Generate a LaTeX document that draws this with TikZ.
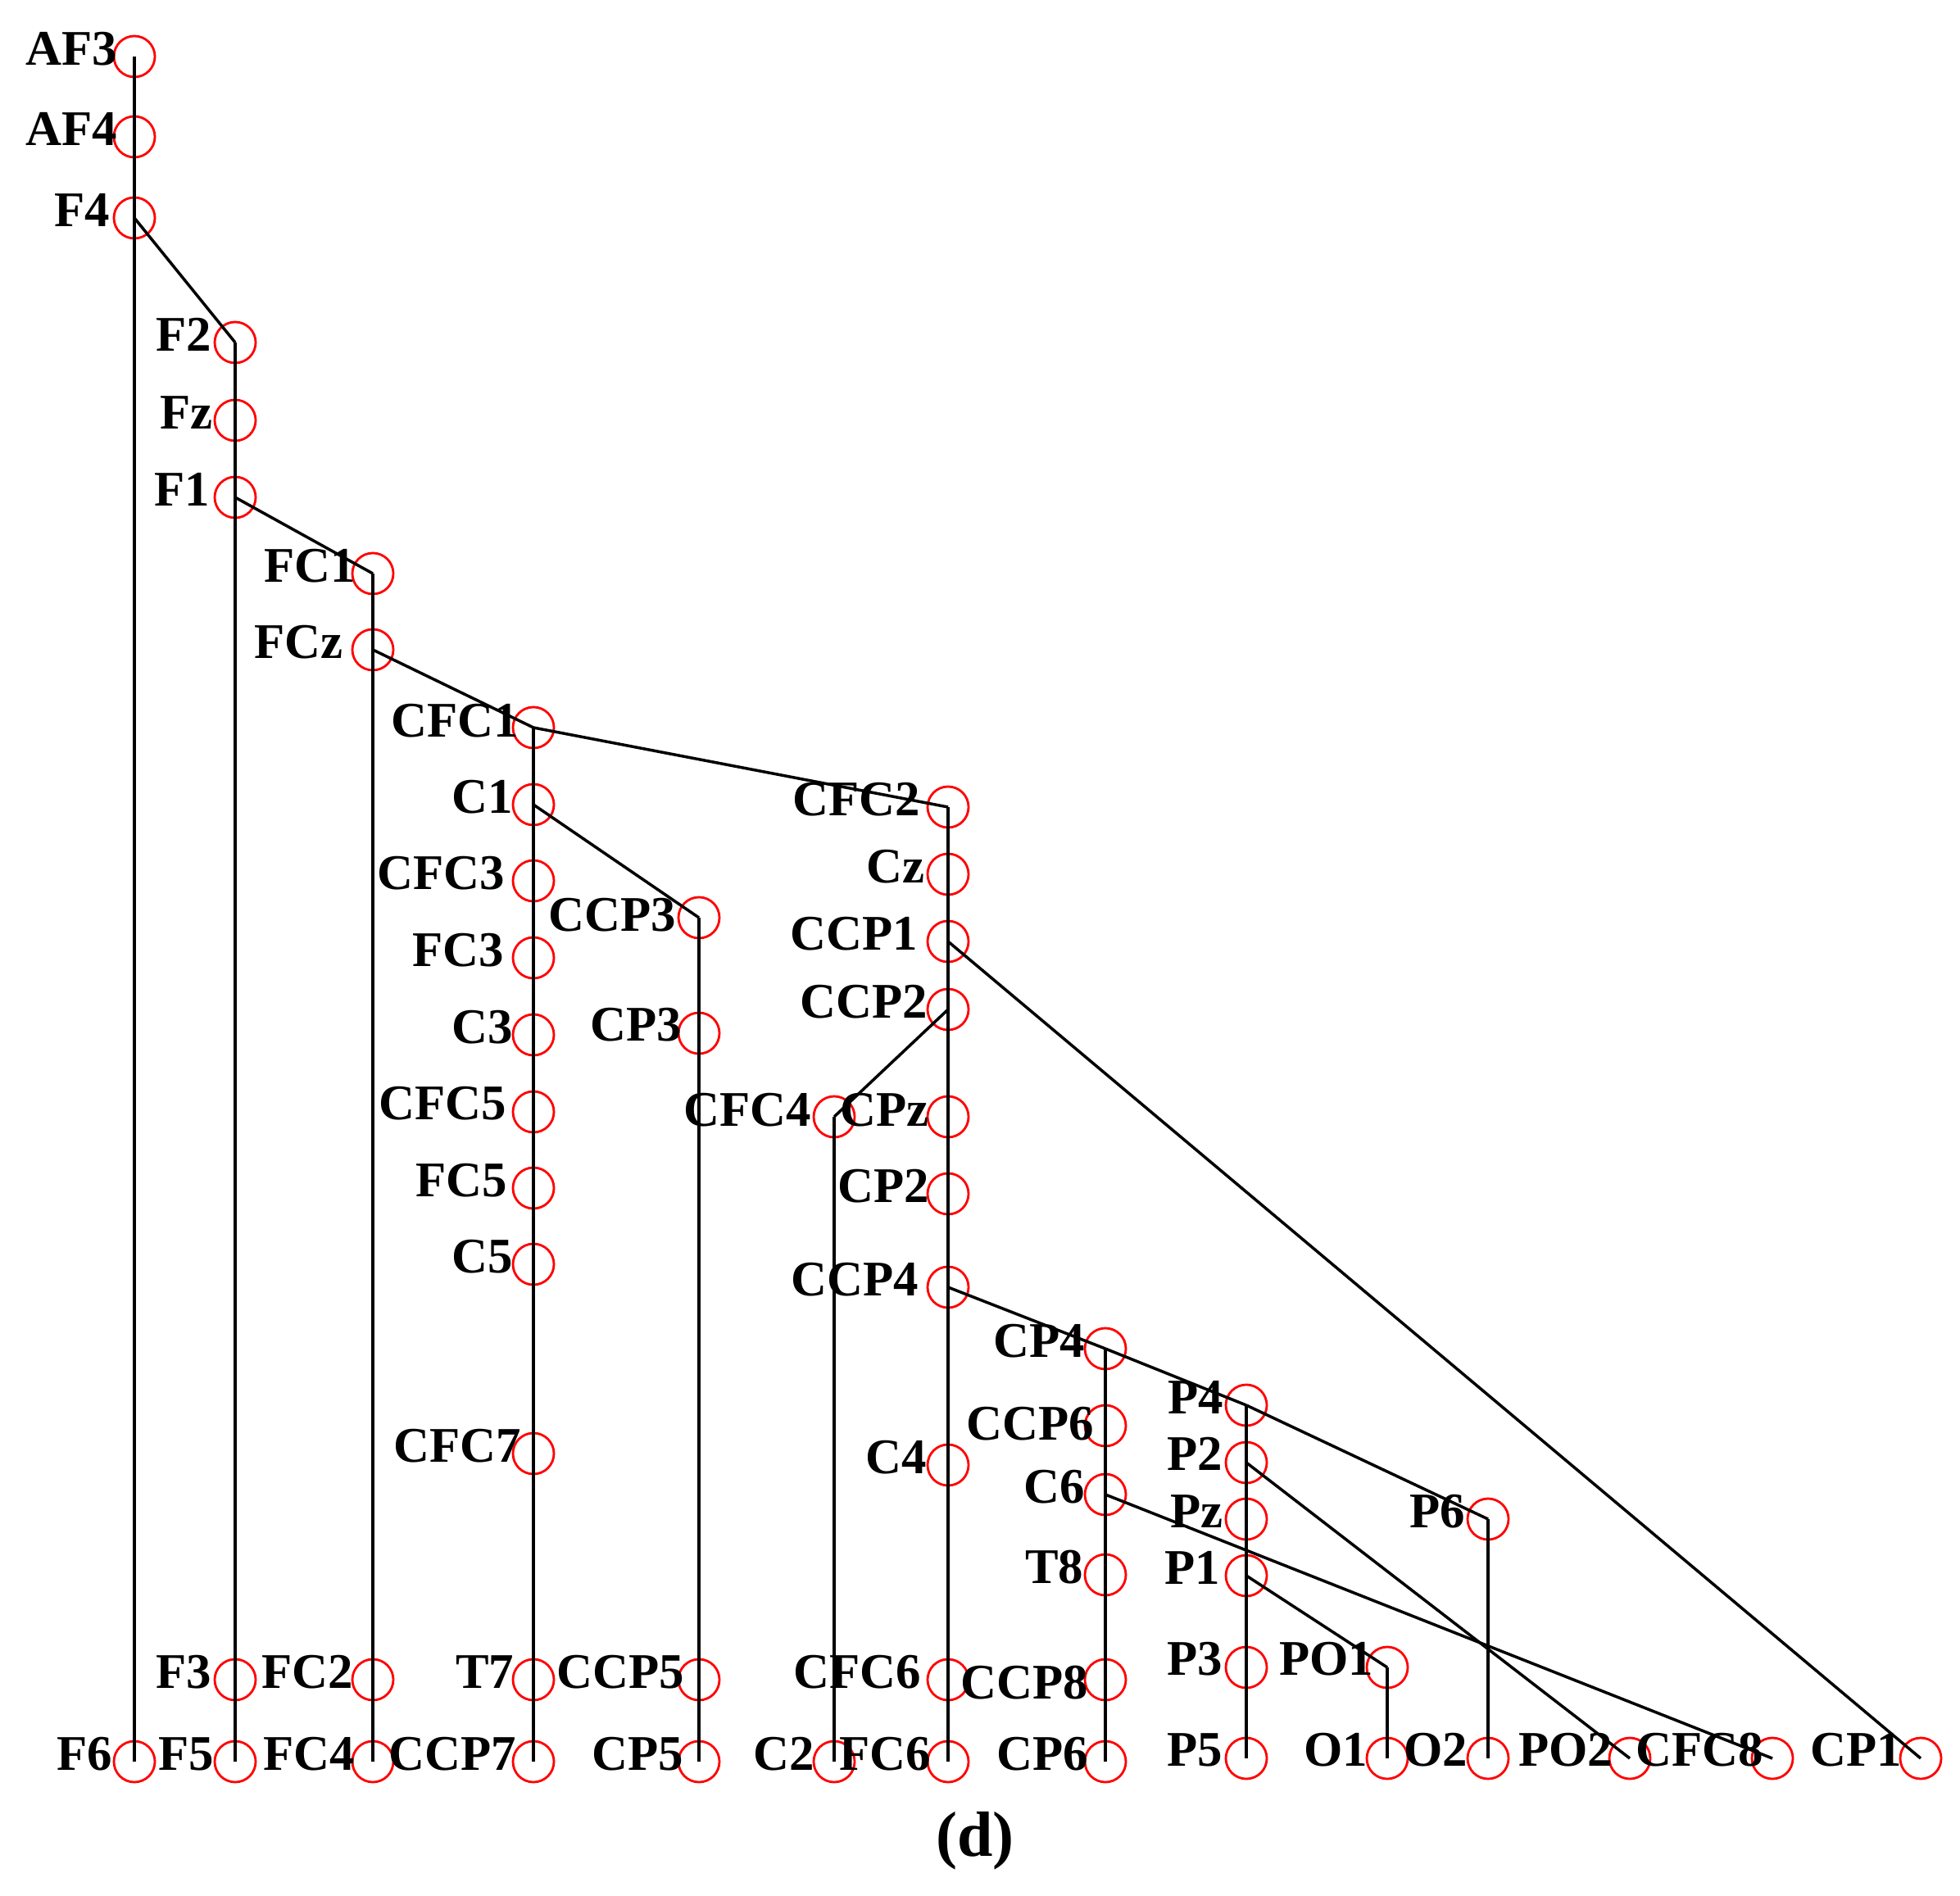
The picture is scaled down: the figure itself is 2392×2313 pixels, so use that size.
\documentclass[tikz,border=0pt]{standalone}
\usepackage{fontspec}
\setmainfont{Liberation Serif}
\usetikzlibrary{calc}
\newcommand{\lblfont}{\fontsize{17.3}{20}\selectfont\bfseries}
\newcommand{\capfont}{\fontsize{22.2}{26}\selectfont\bfseries}
\tikzset{
  electrode/.style={circle, draw=red, line width=0.8pt, minimum size=0.5cm, inner sep=0pt},
  lbl/.style={anchor=base east, inner sep=0pt, font=\lblfont, text=black},
  link/.style={line width=1pt, black},
}
% #1 name and label, #2 centre, #3 label x offset, #4 baseline y offset
\newcommand{\elec}[4]{%
  \node[electrode] (#1) at (#2) {};
  \node[lbl] (#1-l) at ($(#2)+(#3+2,#4)$) {#1};
}
\begin{document}
\begin{tikzpicture}[x=0.01cm, y=-0.01cm]
\fill[white] (0,0) rectangle (2392,2313);
\path[use as bounding box] (0,0) rectangle (2392,2313);

\elec{AF3}{164,69}{-22}{10.5}
\elec{AF4}{164,167}{-22}{10.5}
\elec{F4}{164,266}{-31}{10.5}
\elec{F6}{164,2150}{-28}{10}
\elec{F2}{287,418}{-30}{10.5}
\elec{Fz}{287,513}{-29}{10.5}
\elec{F1}{287,607}{-32}{10.5}
\elec{F3}{287,2050}{-30}{10}
\elec{F5}{287,2150}{-27}{10}
\elec{FC1}{455,700}{-22}{10.5}
\elec{FCz}{455,793}{-38}{10.5}
\elec{FC2}{455,2050}{-25}{10}
\elec{FC4}{455,2150}{-23}{10}
\elec{CFC1}{651,888}{-19}{11}
\elec{C1}{651,982}{-26}{10}
\elec{CFC3}{651,1075}{-36}{10.5}
\elec{FC3}{651,1169}{-37}{10.5}
\elec{C3}{651,1263}{-26}{10.5}
\elec{CFC5}{651,1357}{-34}{9.5}
\elec{FC5}{651,1450}{-33}{10.5}
\elec{C5}{651,1543}{-26}{10.5}
\elec{CFC7}{651,1774}{-16}{10.5}
\elec{T7}{651,2050}{-25}{10}
\elec{CCP7}{651,2150}{-22}{10}
\elec{CCP3}{853,1120}{-29}{16}
\elec{CP3}{853,1261}{-22}{9.5}
\elec{CCP5}{853,2050}{-19}{10}
\elec{CP5}{853,2150}{-20}{10}
\elec{CFC4}{1018,1363}{-29}{11}
\elec{C2}{1018,2150}{-25}{10}
\elec{CFC2}{1157,985}{-35}{10}
\elec{Cz}{1157,1067}{-30}{10.5}
\elec{CCP1}{1157,1149}{-38}{10.5}
\elec{CCP2}{1157,1232}{-26}{10.5}
\elec{CPz}{1157,1363}{-25}{11}
\elec{CP2}{1157,1457}{-24}{10.5}
\elec{CCP4}{1157,1571}{-37}{10.5}
\elec{C4}{1157,1788}{-27}{10.5}
\elec{CFC6}{1157,2050}{-34}{10}
\elec{FC6}{1157,2150}{-22}{10}
\elec{CP4}{1349,1646}{-26}{10}
\elec{CCP6}{1349,1740}{-15}{17}
\elec{C6}{1349,1824}{-26}{10}
\elec{T8}{1349,1922}{-28}{10.5}
\elec{CCP8}{1349,2050}{-22}{23}
\elec{CP6}{1349,2150}{-22}{10}
\elec{P4}{1521,1715}{-29}{10}
\elec{P2}{1521,1785}{-30}{9.5}
\elec{Pz}{1521,1854}{-30}{10}
\elec{P1}{1521,1923}{-33}{10}
\elec{P3}{1521,2035}{-30}{9}
\elec{P5}{1521,2146}{-30}{9}
\elec{PO1}{1693,2035}{-18}{9}
\elec{O1}{1693,2146}{-25}{9}
\elec{P6}{1816,1854}{-29}{10}
\elec{O2}{1816,2146}{-26}{9}
\elec{PO2}{1989,2146}{-22}{9}
\elec{CFC8}{2163,2146}{-12}{9}
\elec{CP1}{2344,2146}{-24}{9}

% vertical stems
\draw[link] (AF3.center) -- (F6.center);
\draw[link] (F2.center) -- (F5.center);
\draw[link] (FC1.center) -- (FC4.center);
\draw[link] (CFC1.center) -- (CCP7.center);
\draw[link] (CCP3.center) -- (CP5.center);
\draw[link] (CFC4.center) -- (C2.center);
\draw[link] (CFC2.center) -- (FC6.center);
\draw[link] (CP4.center) -- (CP6.center);
\draw[link] (P4.center) -- (P5.center);
\draw[link] (PO1.center) -- (O1.center);
\draw[link] (P6.center) -- (O2.center);

% branches
\draw[link] (F4.center) -- (F2.center);
\draw[link] (F1.center) -- (FC1.center);
\draw[link] (FCz.center) -- (CFC1.center);
\draw[link] (CFC1.center) -- (CFC2.center);
\draw[link] (C1.center) -- (CCP3.center);
\draw[link] (CCP1.center) -- (CP1.center);
\draw[link] (CCP2.center) -- (CFC4.center);
\draw[link] (CCP4.center) -- (CP4.center);
\draw[link] (CP4.center) -- (P4.center);
\draw[link] (P4.center) -- (P6.center);
\draw[link] (C6.center) -- (CFC8.center);
\draw[link] (P2.center) -- (PO2.center);
\draw[link] (P1.center) -- (PO1.center);

\node[anchor=base, inner sep=0pt, font=\capfont] (cap) at (1190,2265) {(d)};
\end{tikzpicture}
\end{document}
